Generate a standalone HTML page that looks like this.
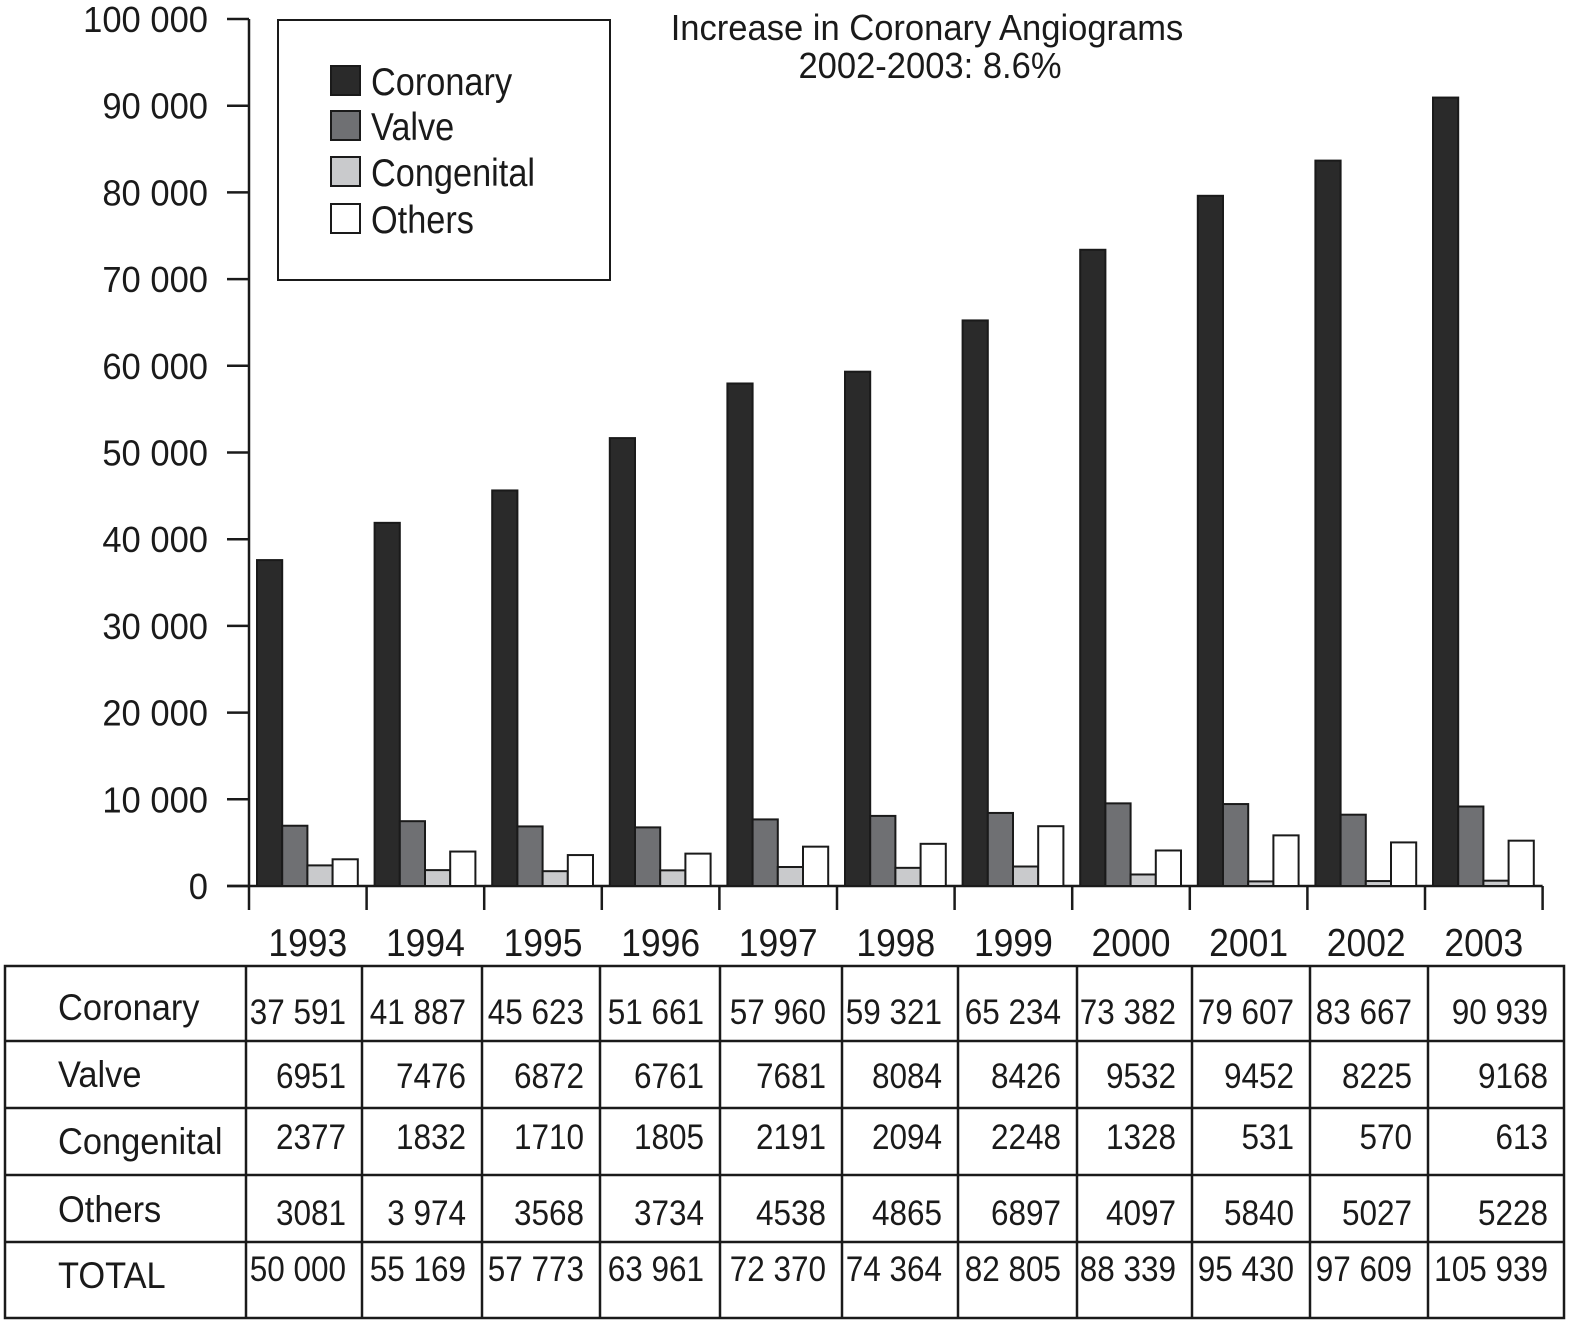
<!DOCTYPE html>
<html><head><meta charset="utf-8"><style>
html,body{margin:0;padding:0;background:#fff}
svg{display:block}
text{font-family:"Liberation Sans Narrow","Liberation Sans",sans-serif;fill:#1a1a1a}
</style></head><body>
<svg id="chart" width="1575" height="1327" viewBox="0 0 1575 1327" xmlns="http://www.w3.org/2000/svg"></svg>
<script>
const years=["1993","1994","1995","1996","1997","1998","1999","2000","2001","2002","2003"];
const coronary=[37591,41887,45623,51661,57960,59321,65234,73382,79607,83667,90939];
const valve=[6951,7476,6872,6761,7681,8084,8426,9532,9452,8225,9168];
const congenital=[2377,1832,1710,1805,2191,2094,2248,1328,531,570,613];
const others=[3081,3974,3568,3734,4538,4865,6897,4097,5840,5027,5228];
const totals=["50 000","55 169","57 773","63 961","72 370","74 364","82 805","88 339","95 430","97 609","105 939"];
const coronaryLbl=["37 591","41 887","45 623","51 661","57 960","59 321","65 234","73 382","79 607","83 667","90 939"];
const othersLbl=["3081","3 974","3568","3734","4538","4865","6897","4097","5840","5027","5228"];
const yTicks=[0,10000,20000,30000,40000,50000,60000,70000,80000,90000,100000];
const yTickLbl=["0","10 000","20 000","30 000","40 000","50 000","60 000","70 000","80 000","90 000","100 000"];

const svg=document.getElementById('chart');
const NS="http://www.w3.org/2000/svg";
function mk(tag,attrs,txt){const e=document.createElementNS(NS,tag);for(const k in attrs)e.setAttribute(k,attrs[k]);if(txt!=null)e.textContent=txt;svg.appendChild(e);return e;}
function tx(x,y,anchor,size,sx,str){return mk('text',{x:0,y:0,'text-anchor':anchor,'font-size':size,transform:'translate('+x+','+y+') scale('+sx+',1)'},str);}
const x0=249,gw=117.6,yBase=886,yTop=19;
const yS=v=>yBase-(v/100000)*(yBase-yTop);
const gX=i=>x0+i*gw;

let e=mk('line',{x1:x0,y1:yTop,x2:x0,y2:yBase,stroke:'#1a1a1a','stroke-width':2.5});


yTicks.forEach((v,i)=>{
 let t=mk('line',{x1:227,y1:yS(v),x2:x0,y2:yS(v),stroke:'#1a1a1a','stroke-width':2.5});
 
 
 let l=tx(208,yS(v)+13,'end',36,0.96,yTickLbl[i]);
 
 
});
e=mk('line',{x1:227,y1:yBase,x2:gX(11),y2:yBase,stroke:'#1a1a1a','stroke-width':2.5});


for(let i=0;i<=11;i++){
 let t=mk('line',{x1:gX(i),y1:yBase,x2:gX(i),y2:910,stroke:'#1a1a1a','stroke-width':2.5});
 
 
}
const series=[[coronary,'#2a2a2a','coronary'],[valve,'#6f7073','valve'],[congenital,'#c9cacc','congenital'],[others,'#ffffff','others']];
const bw=25.2,off=8;
years.forEach((y,i)=>{
 series.forEach((s,k)=>{
  const v=s[0][i];const bx=gX(i)+off+k*bw;
  let r=mk('rect',{x:bx,y:yS(v),width:bw,height:yBase-yS(v),fill:s[1],stroke:'#1a1a1a','stroke-width':2});
  
  
 });
 let l=tx(gX(i)+gw/2,956,'middle',39,0.91,y);
 
 
});
e=mk('rect',{x:278,y:20,width:332,height:260,fill:'#fff',stroke:'#1a1a1a','stroke-width':2});


const legY=[66,111,157,204];
series.forEach((s,k)=>{
 let r=mk('rect',{x:331,y:legY[k],width:29,height:29,fill:s[1],stroke:'#1a1a1a','stroke-width':2});
 
 
 let t=tx(371,legY[k]+29,'start',39,0.88,['Coronary','Valve','Congenital','Others'][k]);
 
 
});
e=tx(927,40,'middle',36,0.96,'Increase in Coronary Angiograms');


e=tx(930,78,'middle',36,0.96,'2002-2003: 8.6%');


const rowsY=[966,1041,1108,1175,1242,1318];
const colX=[5,246,362,482,600,720,842,958,1077,1192,1310,1428,1564];
e=mk('rect',{x:5,y:966,width:1559,height:352,fill:'none',stroke:'#1a1a1a','stroke-width':2.5});


rowsY.slice(1,-1).forEach(y=>{let l=mk('line',{x1:5,y1:y,x2:1564,y2:y,stroke:'#1a1a1a','stroke-width':2.5});

});
colX.slice(1,-1).forEach(x=>{let l=mk('line',{x1:x,y1:966,x2:x,y2:1318,stroke:'#1a1a1a','stroke-width':2.5});

});
const rowNames=['Coronary','Valve','Congenital','Others','TOTAL'];
const rowLblY=[1020,1087,1154,1222,1288];
const rowValY=[1024,1088,1149,1225,1281];
const rowVals=[coronaryLbl,valve.map(String),congenital.map(String),othersLbl,totals];
rowNames.forEach((n,r)=>{
 let t=tx(58,rowLblY[r],'start',37,0.93,n);
 
 
 rowVals[r].forEach((v,i)=>{
  let c=tx(colX[i+2]-16,rowValY[r],'end',35,0.9,v);
  
  
 });
});
</script>
</body></html>
